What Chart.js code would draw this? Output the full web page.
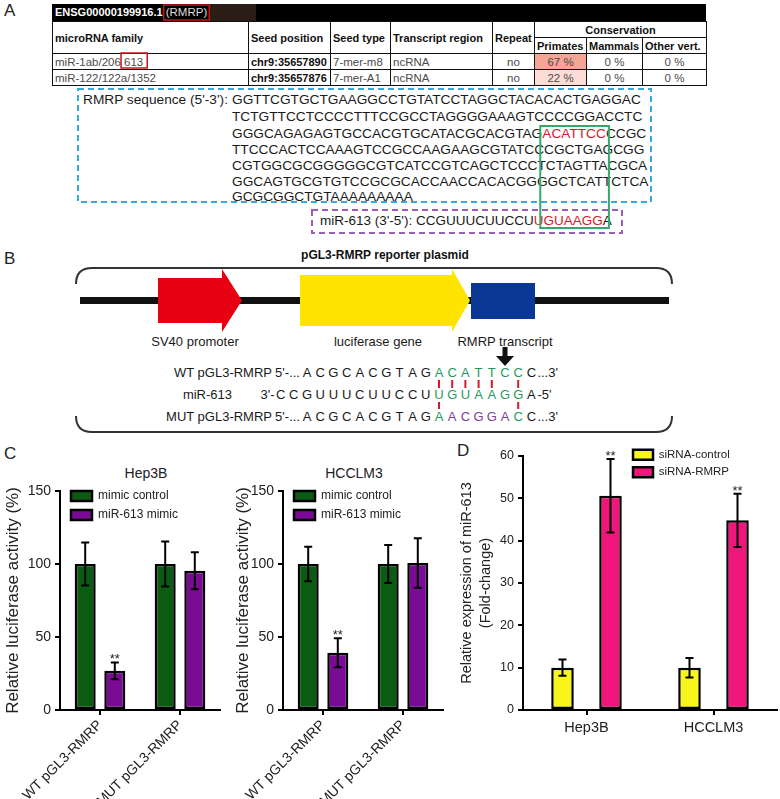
<!DOCTYPE html>
<html>
<head>
<meta charset="utf-8">
<script src="https://cdn.jsdelivr.net/npm/chart.js@4.4.1/dist/chart.umd.min.js"></script>
<style>
  body { margin: 0; background: #fff; }
  #fig { position: relative; width: 780px; height: 799px; overflow: hidden; font-family: 'Liberation Sans', Arial, sans-serif; color: #222; }
  .t { position: absolute; white-space: nowrap; }
  .panel { font-size: 17px; line-height: 18px; }
  table.mir { position: absolute; left: 52px; top: 21px; width: 654px; border-collapse: collapse; table-layout: fixed; font-size: 11.5px; }
  table.mir td { border: 1.5px solid #111; padding: 0 2px; line-height: 12px; overflow: hidden; white-space: nowrap; color: #4a4a4a; }
  table.mir tr { height: 16px; }
  table.mir .h td { font-weight: bold; color: #111; font-size: 11px; }
  table.mir td.c { text-align: center; }
  table.mir td.b { font-weight: bold; color: #111; font-size: 11px; }
  .seq { font-size: 13.7px; line-height: 16px; color: #1a1a1a; }
  .red { color: #d41b2c; }
  .pl { font-size: 13px; line-height: 16px; color: #1a1a1a; }
  canvas { position: absolute; }
  svg { position: absolute; left: 0; top: 0; pointer-events: none; }
</style>
</head>
<body>
<div id="fig">
  <!-- panel A -->
  <div class="t panel" style="left:4px;top:2px;">A</div>
  <div class="t" style="left:52px;top:4px;width:654px;height:17px;background:#000;"></div>
  <div class="t" style="left:210px;top:4px;width:46px;height:17px;background:#2a1d16;"></div>
  <div class="t" style="left:55px;top:4px;line-height:17px;font-size:11px;color:#fff;"><b>ENSG00000199916.1</b> <span id="rmrp" style="color:#ddd;font-size:11.5px;">(RMRP)</span></div>
  <table class="mir">
    <colgroup>
      <col style="width:196px"><col style="width:82px"><col style="width:60px"><col style="width:102px">
      <col style="width:42px"><col style="width:52px"><col style="width:56px"><col style="width:64px">
    </colgroup>
    <tr class="h"><td rowspan="2">microRNA family</td><td rowspan="2">Seed position</td><td rowspan="2">Seed type</td><td rowspan="2">Transcript region</td><td rowspan="2">Repeat</td><td colspan="3" class="c">Conservation</td></tr>
    <tr class="h"><td>Primates</td><td>Mammals</td><td>Other vert.</td></tr>
    <tr><td>miR-1ab/206 <span id="m613">613</span></td><td class="b">chr9:35657890</td><td>7-mer-m8</td><td>ncRNA</td><td class="c">no</td><td class="c" style="background:#f5a596;">67 %</td><td class="c">0 %</td><td class="c">0 %</td></tr>
    <tr><td>miR-122/122a/1352</td><td class="b">chr9:35657876</td><td>7-mer-A1</td><td>ncRNA</td><td class="c">no</td><td class="c" style="background:#fcdcd4;">22 %</td><td class="c">0 %</td><td class="c">0 %</td></tr>
  </table>

  <div class="t seq" style="left:83px;top:92px;">RMRP sequence (5'-3'):</div>
  <div class="t seq" style="left:232px;top:92px;">GGTTCGTGCTGAAGGCCTGTATCCTAGGCTACACACTGAGGAC</div>
  <div class="t seq" style="left:232px;top:109px;">TCTGTTCCTCCCCTTTCCGCCTAGGGGAAAGTCCCCGGACCTC</div>
  <div class="t seq" style="left:232px;top:126px;">GGGCAGAGAGTGCCACGTGCATACGCACGTAG<span id="site" class="red">ACATTCC</span>CCGC</div>
  <div class="t seq" style="left:232px;top:142px;">TTCCCACTCCAAAGTCCGCCAAGAAGCGTATCCCGCTGAGCGG</div>
  <div class="t seq" style="left:232px;top:158px;">CGTGGCGCGGGGGCGTCATCCGTCAGCTCCCTCTAGTTACGCA</div>
  <div class="t seq" style="left:232px;top:174px;">GGCAGTGCGTGTCCGCGCACCAACCACACGGGGCTCATTCTCA</div>
  <div class="t seq" style="left:232px;top:189px;">GCGCGGCTGTAAAAAAAAA</div>
  <div class="t seq" style="left:320px;top:213px;font-size:13.5px;">miR-613 (3'-5'): CCGUUUCUUCCU<span class="red">UGUAAGG</span>A</div>

  <!-- panel B -->
  <div class="t panel" style="left:4px;top:250px;">B</div>
  <div class="t" style="left:0;width:770px;text-align:center;top:247px;font-size:12px;line-height:16px;font-weight:bold;color:#111;">pGL3-RMRP reporter plasmid</div>
  <div class="t pl" style="left:135px;width:120px;text-align:center;top:334px;">SV40 promoter</div>
  <div class="t pl" style="left:318px;width:120px;text-align:center;top:334px;">luciferase gene</div>
  <div class="t pl" style="left:445px;width:120px;text-align:center;top:334px;">RMRP transcript</div>
  <div id="rows"></div>

  <!-- panels C and D -->
  <div class="t panel" style="left:4px;top:445px;">C</div>
  <div class="t panel" style="left:457px;top:442px;">D</div>
  <div class="t" style="left:96px;width:100px;text-align:center;top:465px;font-size:14px;line-height:16px;">Hep3B</div>
  <div class="t" style="left:304px;width:100px;text-align:center;top:465px;font-size:14px;line-height:16px;">HCCLM3</div>

  <canvas id="hep3b" width="230" height="360" style="left:0;top:440px;"></canvas>
  <canvas id="hcclm3" width="230" height="360" style="left:223px;top:440px;"></canvas>
  <canvas id="expr" width="340" height="360" style="left:440px;top:440px;"></canvas>

  <svg width="780" height="799">
    <rect id="box613" x="121" y="53" width="27" height="15" fill="none" stroke="#d0101a" stroke-width="1.5"/>
    <rect id="boxRmrp" x="166" y="5" width="45" height="15" fill="none" stroke="#d0101a" stroke-width="1.5"/>
    <rect x="78" y="89" width="573" height="113" fill="none" stroke="#38a9dc" stroke-width="2" stroke-dasharray="6 4"/>
    <rect x="312" y="210" width="310" height="23" fill="none" stroke="#9b5cb4" stroke-width="2" stroke-dasharray="6 4"/>
    <rect id="boxSite" x="544" y="126" width="63" height="102" fill="none" stroke="#35a86a" stroke-width="2"/>

    <path d="M76,284 Q76,268 92,268 L656,268 Q672,268 672,284" fill="none" stroke="#333" stroke-width="2"/>
    <path d="M76,416 Q76,432 92,432 L656,432 Q672,432 672,416" fill="none" stroke="#333" stroke-width="2"/>
    <rect x="80" y="297" width="589" height="7" fill="#111"/>
    <polygon points="158,278 222,278 222,269 242,300.5 222,332 222,323 158,323" fill="#e60012"/>
    <polygon points="300,275 452,275 452,269 470,300.5 452,332 452,326 300,326" fill="#ffe400"/>
    <rect x="471" y="283" width="64" height="36" fill="#0b3795"/>
    <rect x="502.5" y="347" width="5" height="10" fill="#111"/>
    <polygon points="496,356 514,356 505,366" fill="#111"/>
    <g id="ticks" stroke="#d41b2c" stroke-width="2"></g>
  </svg>
</div>

<script>
// panel C: luciferase reporter assay
const cCategories = ['WT pGL3-RMRP', 'MUT pGL3-RMRP']
const cSeries = ['mimic control', 'miR-613 mimic']
const cTicks = [0, 50, 100, 150]
const hep3bControl = [100, 100]
const hep3bControlErr = [14.7, 15.4]
const hep3bMimic = [26.8, 95.4]
const hep3bMimicErr = [5.8, 12.7]
const hep3bStars = ['**', '']
const hcclm3Control = [100, 100]
const hcclm3ControlErr = [11.8, 13]
const hcclm3Mimic = [39.2, 100.7]
const hcclm3MimicErr = [9.9, 17]
const hcclm3Stars = ['**', '']

// panel D: miR-613 expression
const dCategories = ['Hep3B', 'HCCLM3']
const dSeries = ['siRNA-control', 'siRNA-RMRP']
const dTicks = [0, 10, 20, 30, 40, 50, 60]
const dControl = [10, 10]
const dControlErr = [1.9, 2.3]
const dRmrp = [50.6, 44.8]
const dRmrpErr = [8.7, 6.3]
const dStars = ['**', '**']

// red / green outline boxes follow the text they mark
const fig = document.getElementById('fig').getBoundingClientRect()
function fitBox(spanId, rectId, padL, padR) {
  const r = document.getElementById(spanId).getBoundingClientRect()
  const box = document.getElementById(rectId)
  box.setAttribute('x', r.left - fig.left - padL)
  box.setAttribute('width', r.width + padL + padR)
}
fitBox('m613', 'box613', 3, 4)
fitBox('rmrp', 'boxRmrp', 2, 2)
fitBox('site', 'boxSite', 2, 3)

// panel B sequence rows, one letter per column
const colX = c => 307 + 13.2 * (c - 1)
const rows = document.getElementById('rows')
function put(html, style) {
  const d = document.createElement('div')
  d.className = 't pl'
  d.style.cssText = style
  d.innerHTML = html
  rows.appendChild(d)
}
function letters(cy, col, str, color) {
  ;[...str].forEach((ch, i) => {
    put(ch, `left:${colX(col + i) - 6}px;width:12px;text-align:center;top:${cy - 8}px;color:${color}`)
  })
}
const green = '#1f9a5c'
const purple = '#7d3c98'
put('WT pGL3-RMRP', 'right:508px;top:365px;text-align:right')
put("5'-...", `right:${780 - colX(1) + 7}px;top:365px`)
letters(373, 1, 'ACGCACGTAG', '#1a1a1a')
letters(373, 11, 'ACATTCC', green)
letters(373, 18, 'C', '#1a1a1a')
put("...3'", `left:${colX(18) + 6}px;top:365px`)

put('miR-613', 'right:548px;top:387px;text-align:right')
put("3'-", `right:${780 - colX(-1) + 6}px;top:387px`)
letters(395, -1, 'CCGUUUCUUCCU', '#1a1a1a')
letters(395, 11, 'UGUAAGG', green)
letters(395, 18, 'A', '#1a1a1a')
put("-5'", `left:${colX(18) + 6}px;top:387px`)

put('MUT pGL3-RMRP', 'right:508px;top:409px;text-align:right')
put("5'-...", `right:${780 - colX(1) + 7}px;top:409px`)
letters(417, 1, 'ACGCACGTAG', '#1a1a1a')
letters(417, 11, 'A', green)
letters(417, 12, 'ACGGA', purple)
letters(417, 17, 'C', green)
letters(417, 18, 'C', '#1a1a1a')
put("...3'", `left:${colX(18) + 6}px;top:409px`)

const ticks = document.getElementById('ticks')
function tick(col, y1, y2) {
  const l = document.createElementNS('http://www.w3.org/2000/svg', 'line')
  l.setAttribute('x1', colX(col)); l.setAttribute('x2', colX(col))
  l.setAttribute('y1', y1); l.setAttribute('y2', y2)
  ticks.appendChild(l)
}
;[11, 12, 13, 14, 15, 17].forEach(c => tick(c, 380, 388))
;[11, 17].forEach(c => tick(c, 402, 409))

// charts
Chart.defaults.font.family = "'Liberation Sans', Arial, sans-serif"
Chart.defaults.color = '#222'

const errorBars = {
  id: 'errorBars',
  afterDatasetsDraw(chart) {
    const { ctx, scales: { y } } = chart
    ctx.save()
    chart.data.datasets.forEach((ds, i) => {
      chart.getDatasetMeta(i).data.forEach((bar, j) => {
        const v = ds.data[j]
        const e = ds.err[j]
        const top = y.getPixelForValue(v + e)
        const bot = y.getPixelForValue(v - e)
        ctx.strokeStyle = '#000'
        ctx.lineWidth = 2
        ctx.beginPath()
        ctx.moveTo(bar.x, top); ctx.lineTo(bar.x, bot)
        ctx.moveTo(bar.x - 4, top); ctx.lineTo(bar.x + 4, top)
        ctx.moveTo(bar.x - 4, bot); ctx.lineTo(bar.x + 4, bot)
        ctx.stroke()
        if (ds.stars && ds.stars[j]) {
          ctx.fillStyle = '#222'
          ctx.font = "13px 'Liberation Sans', Arial, sans-serif"
          ctx.textAlign = 'center'
          ctx.textBaseline = 'alphabetic'
          ctx.fillText(ds.stars[j], bar.x, top + 1)
        }
      })
    })
    ctx.restore()
  }
}

// put the legend where the figure has it, inside the plot area
const legendShift = {
  id: 'legendShift',
  afterLayout(chart, args, opts) {
    const lg = chart.legend
    if (!lg) return
    const h = lg.height
    const w = lg.width
    lg.left = chart.chartArea.left + opts.dx
    lg.top = chart.chartArea.top + opts.dy
    lg.right = lg.left + w
    lg.bottom = lg.top + h
  }
}

const axisGrid = { drawOnChartArea: false, color: '#000', lineWidth: 2, tickLength: 5 }
const axisBorder = { color: '#000', width: 2 }

function luciferaseChart(id, control, controlErr, mimic, mimicErr, stars, titlePad) {
  new Chart(document.getElementById(id), {
    type: 'bar',
    plugins: [errorBars, legendShift],
    data: {
      labels: cCategories,
      datasets: [
        { label: cSeries[0], data: control, err: controlErr, backgroundColor: '#0b5b12' },
        { label: cSeries[1], data: mimic, err: mimicErr, stars: stars, backgroundColor: '#7a0b94' }
      ]
    },
    options: {
      responsive: false,
      animation: false,
      layout: { padding: { top: 51, right: 10, left: 0, bottom: 0 } },
      datasets: {
        bar: { borderColor: '#000', borderWidth: 2.5, borderSkipped: false, categoryPercentage: 0.74, barPercentage: 0.71 }
      },
      plugins: {
        legend: {
          position: 'chartArea',
          align: 'start',
          labels: { boxWidth: 21, boxHeight: 10, padding: 7, font: { size: 12 }, color: '#222' }
        },
        legendShift: { dx: 4, dy: -8 },
        tooltip: { enabled: false }
      },
      scales: {
        x: {
          afterFit: s => { s.height = 90 },
          border: axisBorder,
          grid: { ...axisGrid, offset: false },
          ticks: { minRotation: 45, maxRotation: 45, font: { size: 14 }, color: '#222', padding: 2 }
        },
        y: {
          min: 0,
          max: 150,
          afterFit: s => { s.width = 60 },
          afterBuildTicks: s => { s.ticks = cTicks.map(v => ({ value: v })) },
          border: axisBorder,
          grid: axisGrid,
          ticks: { font: { size: 14 }, color: '#222', padding: 4 },
          title: { display: true, text: 'Relative luciferase activity (%)', font: { size: 17 }, color: '#222', padding: { top: titlePad } }
        }
      }
    }
  })
}

luciferaseChart('hep3b', hep3bControl, hep3bControlErr, hep3bMimic, hep3bMimicErr, hep3bStars, 3)
luciferaseChart('hcclm3', hcclm3Control, hcclm3ControlErr, hcclm3Mimic, hcclm3MimicErr, hcclm3Stars, 10)

new Chart(document.getElementById('expr'), {
  type: 'bar',
  plugins: [errorBars, legendShift],
  data: {
    labels: dCategories,
    datasets: [
      { label: dSeries[0], data: dControl, err: dControlErr, backgroundColor: '#f7f51c' },
      { label: dSeries[1], data: dRmrp, err: dRmrpErr, stars: dStars, backgroundColor: '#f0167c' }
    ]
  },
  options: {
    responsive: false,
    animation: false,
    layout: { padding: { top: 16, right: 3, left: 0, bottom: 0 } },
    datasets: {
      bar: { borderColor: '#000', borderWidth: 2.5, borderSkipped: false, categoryPercentage: 0.756, barPercentage: 0.47 }
    },
    plugins: {
      legend: {
        position: 'chartArea',
        align: 'start',
        labels: { boxWidth: 20, boxHeight: 10, padding: 6, font: { size: 11.5 }, color: '#222' }
      },
      legendShift: { dx: 104, dy: -13 },
      tooltip: { enabled: false }
    },
    scales: {
      x: {
        afterFit: s => { s.height = 90 },
        border: axisBorder,
        grid: { ...axisGrid, offset: false },
        ticks: { font: { size: 14.5 }, color: '#222', padding: 4 }
      },
      y: {
        min: 0,
        max: 60,
        afterFit: s => { s.width = 83 },
        afterBuildTicks: s => { s.ticks = dTicks.map(v => ({ value: v })) },
        border: axisBorder,
        grid: axisGrid,
        ticks: { font: { size: 12.5 }, color: '#222', padding: 4 },
        title: {
          display: true,
          text: ['Relative expression of miR-613', '(Fold-change)'],
          font: { size: 14.5, lineHeight: 1.35 },
          color: '#222',
          padding: { top: 17 }
        }
      }
    }
  }
})
</script>
</body>
</html>
